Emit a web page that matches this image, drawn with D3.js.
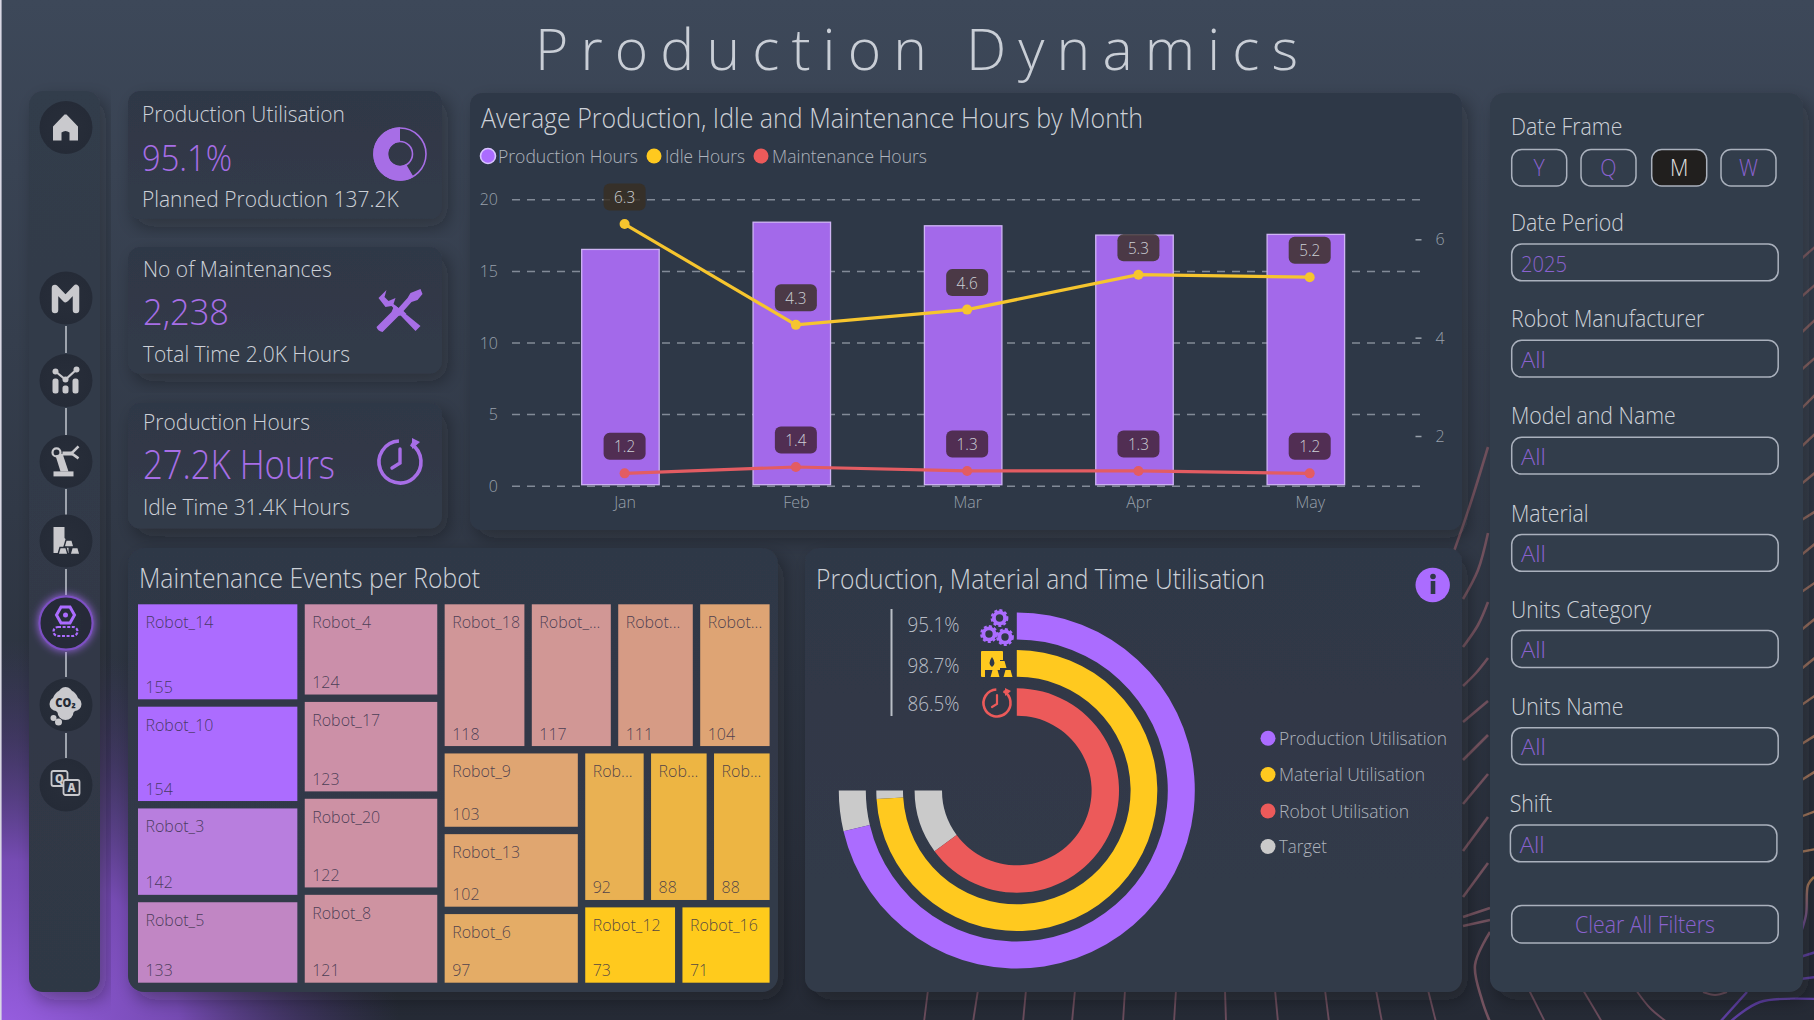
<!DOCTYPE html>
<html><head><meta charset="utf-8">
<script src="https://cdn.jsdelivr.net/npm/d3@7/dist/d3.min.js"></script>
<style>html,body{margin:0;padding:0;background:#262b36;overflow:hidden}svg{display:block}text{font-family:"Open Sans",sans-serif;font-weight:300}</style>
</head><body><svg id="c" width="1814" height="1020"></svg>
<script>
// ---- chart data
const months=["Jan","Feb","Mar","Apr","May"];
const productionHours=[16.5,18.4,18.15,17.5,17.55];
const idleHours=[6.31,4.26,4.57,5.28,5.23];
const maintenanceHours=[1.24,1.37,1.29,1.29,1.24];
const leftTicks=[0,5,10,15,20];
const rightTicks=[2,4,6];
const robotLabels=["Robot_14","Robot_10","Robot_3","Robot_5","Robot_4","Robot_17","Robot_20","Robot_8","Robot_18","Robot_...","Robot...","Robot...","Robot_9","Robot_13","Robot_6","Rob...","Rob...","Rob...","Robot_12","Robot_16"];
const robotEvents=[155,154,142,133,124,123,122,121,118,117,111,104,103,102,97,92,88,88,73,71];
const treeShape=[[0,1,2,3],[4,5,6,7],[[8,9,10,11],[[12,13,14],[[15,16,17],[18,19]]]]];
const utilNames=["Production Utilisation","Material Utilisation","Robot Utilisation"];
const utilValues=[95.1,98.7,86.5];
const filterNames=["Date Period","Robot Manufacturer","Model and Name","Material","Units Category","Units Name","Shift"];
const filterValues=["2025","All","All","All","All","All","All"];
const frames=["Y","Q","M","W"];
const kpiTitle=["Production Utilisation","No of Maintenances","Production Hours"];
const kpiValue=["95.1%","2,238","27.2K Hours"];
const kpiSub=["Planned Production 137.2K","Total Time 2.0K Hours","Idle Time 31.4K Hours"];
// ---- palette
const PURPLE="#ab6cff",YELLOW="#ffc91f",RED="#ec5a5a",GREY="#cacaca",TXT="#cdd1d8",VAL="#a76ee6",FIL="#8a62cf";
const svg=d3.select("#c"),defs=svg.append("defs");
const SQUEEZE=0.925;

function grad(id,c1,c2){const g=defs.append("linearGradient").attr("id",id).attr("x1",0).attr("y1",0).attr("x2",0).attr("y2",1);
 g.append("stop").attr("offset",0).attr("stop-color",c1);g.append("stop").attr("offset",1).attr("stop-color",c2);}
grad("bg","#3d4859","#252a35");grad("pA","#2f3746","#323b49");grad("pB","#333c4b","#333d4c");grad("pS","#333c4b","#2f3744");
const og=defs.append("linearGradient").attr("id","orangePurple").attr("gradientUnits","userSpaceOnUse").attr("x1",0).attr("x2",0).attr("y1",877).attr("y2",935);
og.append("stop").attr("offset",0).attr("stop-color","#ab7c4e");og.append("stop").attr("offset",1).attr("stop-color","#5c3ea0");
const rg=defs.append("radialGradient").attr("id","glow").attr("gradientUnits","userSpaceOnUse").attr("cx",0).attr("cy",1040).attr("r",400);
[[0,"#9a5fe4",1],[.45,"#8350c8",.85],[.75,"#5f3f96",.4],[1,"#4a3a7a",0]].forEach(s=>rg.append("stop").attr("offset",s[0]).attr("stop-color",s[1]).attr("stop-opacity",s[2]));
const rn=defs.append("radialGradient").attr("id","nav");
rn.append("stop").attr("offset",0).attr("stop-color","#282e3a");rn.append("stop").attr("offset",1).attr("stop-color","#252b37");
const f=defs.append("filter").attr("id","sh").attr("x","-15%").attr("y","-15%").attr("width","130%").attr("height","130%");
f.append("feDropShadow").attr("dx",6).attr("dy",8).attr("stdDeviation",9).attr("flood-color","#161a24").attr("flood-opacity",.36);
const f2=defs.append("filter").attr("id","gl").attr("x","-50%").attr("y","-50%").attr("width","200%").attr("height","200%");
f2.append("feDropShadow").attr("dx",0).attr("dy",0).attr("stdDeviation",4).attr("flood-color",PURPLE).attr("flood-opacity",.9);

// ---- background
svg.append("rect").attr("width",1814).attr("height",1020).attr("fill","url(#bg)");
svg.append("rect").attr("width",620).attr("y",560).attr("height",460).attr("fill","url(#glow)");
svg.append("rect").attr("width",1.6).attr("height",1020).attr("fill","#d9d8e4");
// decorative contours, behind the panels
const contourGap=[
 [[1488,447],[1470,505],[1453,554]],[[1488,533],[1478,570],[1463,599]],[[1488,602],[1478,625],[1463,647]],[[1488,658],[1476,673],[1463,686]],
 [[1488,701],[1463,722]],[[1488,735],[1463,760]],[[1488,774],[1463,804]],[[1488,817],[1463,851]],[[1488,863],[1463,897]],[[1490,908],[1463,917]],[[1490,920],[1463,926]],
 [[1490,932],[1475,965],[1482,1000],[1490,1022]]];
const contourFloor=[[[928,990],[924,1022]],[[978,990],[973,1022]],[[1026,990],[1023,1022]],[[1075,990],[1072,1022]],[[1125,990],[1123,1022]],[[1176,990],[1174,1022]],[[1225,990],[1226,1022]],[[1275,990],[1278,1022]],[[1325,990],[1329,1022]],[[1376,990],[1382,1022]],[[1428,990],[1436,1022]],
 [[1529,990],[1545,1022]],[[1583,990],[1602,1022]],[[1636,990],[1650,1008],[1667,1022]],[[1703,992],[1715,995],[1727,992]]];
const lineGen=d3.line().curve(d3.curveCatmullRom);
svg.append("g").attr("fill","none").attr("stroke","#73525f").attr("stroke-width",2.6).selectAll("path").data(contourGap).join("path").attr("d",lineGen);
svg.append("g").attr("fill","none").attr("stroke","#6a4c5c").attr("stroke-width",1.9).selectAll("path").data(contourFloor).join("path").attr("d",lineGen);
const rightStart=[260,298,334,371,410,448,485,521,556,593,631,670,706,745,781,817,852],rightEnd=[246,284,319,357,394,433,472,511,543,582,618,657,695,735,771,811,849];
svg.append("g").attr("fill","none").attr("stroke-width",2.4).selectAll("path").data(rightStart).join("path")
 .attr("stroke",(d,i)=>d3.interpolateRgb("#7d5a62","#a97a5c")(i/16)).attr("d",(d,i)=>lineGen([[1800,d],[1816,rightEnd[i]]]));
const contourPurple=[[[1814,877],[1808,885],[1806,915],[1800,935]],[[1800,957],[1816,952]],[[1800,979],[1816,977]],[[1747,992],[1720,1022]],[[1730,1022],[1760,1002],[1816,999]]];
svg.append("g").attr("fill","none").attr("stroke-width",2.4).selectAll("path").data(contourPurple).join("path").attr("stroke",(d,i)=>i?"#5c3ea0":"url(#orangePurple)").attr("d",lineGen);

// ---- helpers
function panel(x0,y0,x1,y1,fill,r=12){return svg.append("rect").attr("x",x0).attr("y",y0).attr("width",x1-x0).attr("height",y1-y0).attr("rx",r).attr("fill",fill).attr("filter","url(#sh)");}
function T(g,x,y,s,size,fill,o={}){const t=g.append("text").attr("x",x).attr("y",y).text(s).attr("font-size",size).attr("fill",fill);
 if(o.anchor)t.attr("text-anchor",o.anchor);if(o.w){t.attr("textLength",o.w).attr("lengthAdjust",o.adj||"spacingAndGlyphs");}
 if(o.weight)t.style("font-weight",o.weight);return t;}

// ---- panels
panel(29,91,100,992,"url(#pS)",14);
[[91,218.7],[247,373.6],[403,528.6]].forEach(d=>panel(128,d[0],442,d[1],"url(#pA)"));
panel(470,93,1462,530,"#2f3847");
panel(128,548,778,992,"url(#pA)",16);
panel(805,548,1462,992,"url(#pA)",14);
panel(1490,93,1803,992,"url(#pB)",14);

T(svg,535,70,"Production Dynamics",57,"#c9ced6",{w:763,adj:"spacing"});

// ---- navigation rail
const navY=[127.4,298,380.5,461.4,541,623,705,785];
const nav=svg.append("g");
[[326,353],[408,435],[489,515],[569,595],[652,677],[733,758]].forEach(d=>nav.append("line").attr("x1",66).attr("x2",66).attr("y1",d[0]).attr("y2",d[1]).attr("stroke","#aab0b9").attr("stroke-width",1.8));
navY.forEach((y,i)=>{const c=nav.append("circle").attr("cx",66).attr("cy",y).attr("r",26.5).attr("fill","url(#nav)");
 if(i===5)c.attr("stroke","#7d50c4").attr("stroke-width",2).attr("filter","url(#gl)");});
const IC="#c9c9cd";
function at(y){return nav.append("g").attr("transform",`translate(65.5,${y})`);}
at(navY[0]).append("path").attr("fill",IC).attr("d","M-12.5,13 V-1 L-1,-13 H1 L12.5,-1 V13 H4 V5 Q0,2 -4,5 V13 Z");
at(navY[1]).append("path").attr("fill","none").attr("stroke",IC).attr("stroke-width",6.5).attr("stroke-linejoin","round").attr("stroke-linecap","round").attr("d","M-10.5,12 V-10 L0,1 L10.5,-10 V12");
(()=>{const g=at(navY[2]);[[-13,-2,6,15],[-3,5,6,8],[7,-2,6,15]].forEach(r=>g.append("rect").attr("x",r[0]).attr("y",r[1]).attr("width",r[2]).attr("height",r[3]).attr("rx",2.5).attr("fill",IC));
 g.append("path").attr("fill","none").attr("stroke",IC).attr("stroke-width",2.2).attr("d","M-10,-9 L0,-1 L11,-11");[[-10,-9],[0,-1],[11,-11]].forEach(p=>g.append("circle").attr("cx",p[0]).attr("cy",p[1]).attr("r",3).attr("fill",IC));})();
(()=>{const g=at(navY[3]);g.append("rect").attr("x",-12).attr("y",10).attr("width",20).attr("height",5).attr("fill",IC);
 g.append("path").attr("fill",IC).attr("d","M-10,-6 L-3,-8 L3,10 H-5 Z M-3,-10 H7 V-6 H-3 Z");
 g.append("circle").attr("cx",-9).attr("cy",-9).attr("r",4).attr("fill","none").attr("stroke",IC).attr("stroke-width",2.2);
 g.append("path").attr("fill","none").attr("stroke",IC).attr("stroke-width",2.6).attr("d","M13,-15 L6,-8 L13,-3");})();
(()=>{const g=at(navY[4]);g.append("path").attr("fill",IC).attr("d","M-12,-14 H-1 V-3 L3,1 V12 H-12 Z");
 [[3.5,-1],[-2.5,6.5],[9.5,6.5]].forEach(p=>g.append("path").attr("fill",IC).attr("stroke","#262c38").attr("stroke-width",1.4).attr("d",`M${p[0]-5},${p[1]+7} L${p[0]-3},${p[1]} H${p[0]+3} L${p[0]+5},${p[1]+7} Z`));})();
(()=>{const g=at(navY[5]);g.append("path").attr("fill","none").attr("stroke",PURPLE).attr("stroke-width",3).attr("d","M-9,-8 L-4.5,-16 H4.5 L9,-8 L4.5,0 H-4.5 Z");
 g.append("circle").attr("cy",-8).attr("r",2.5).attr("fill",PURPLE);
 g.append("rect").attr("x",-12).attr("y",4).attr("width",24).attr("height",9).attr("rx",4.5).attr("fill","none").attr("stroke",PURPLE).attr("stroke-width",2.2).attr("stroke-dasharray","3 1.6");})();
(()=>{const g=at(navY[6]);[[0,-3,13],[-9,-1,7],[9,-1,7],[0,7,8],[0,-11,7]].forEach(c=>g.append("circle").attr("cx",c[0]).attr("cy",c[1]).attr("r",c[2]).attr("fill",IC));
 [[-12,13,3],[-7,17,3.5]].forEach(c=>g.append("circle").attr("cx",c[0]).attr("cy",c[1]).attr("r",c[2]).attr("fill",IC));
 T(g,0,2,"CO₂",12,"#232934",{anchor:"middle",weight:800});})();
(()=>{const g=at(navY[7]);[[-14,-14,"Q"],[-2,-5,"A"]].forEach(b=>{g.append("rect").attr("x",b[0]).attr("y",b[1]).attr("width",16).attr("height",15).attr("rx",2).attr("fill","#262c38").attr("stroke",IC).attr("stroke-width",1.8);
 T(g,b[0]+8,b[1]+12,b[2],12,IC,{anchor:"middle",weight:800});});})();

// ---- KPI cards
const kpiX=[142,143,143],kpiTY=[122,277,430.4],kpiVY=[171,325,478.7],kpiSY=[207,362,514.8],kpiVS=[37.3,37.3,40],kpiVW=[90,86,192];
kpiTitle.forEach((s,i)=>T(svg,kpiX[i],kpiTY[i],s,22.67,TXT));
kpiValue.forEach((s,i)=>T(svg,kpiX[i],kpiVY[i],s,kpiVS[i],VAL,{w:kpiVW[i]}));
kpiSub.forEach((s,i)=>T(svg,kpiX[i],kpiSY[i],s,22.67,TXT));
(()=>{const g=svg.append("g").attr("transform","translate(400,154)");const a=d3.arc();
 g.append("circle").attr("r",26).attr("fill","none").attr("stroke",VAL).attr("stroke-width",1.6);
 g.append("circle").attr("r",12.5).attr("fill","none").attr("stroke",VAL).attr("stroke-width",1.6);
 g.append("path").attr("fill",VAL).attr("d",a({innerRadius:12,outerRadius:26.8,startAngle:Math.PI*.83,endAngle:Math.PI*2}));})();
(()=>{const g=svg.append("g").attr("transform","translate(399.5,310)").attr("fill",VAL);
 g.append("path").attr("d","M-21,-12 L-13,-20 L-15,-13 L-11,-9 L-4,-12 L-6,-6 L21,16 L16,21 L-8,-4 L-14,-3 Z");
 g.append("path").attr("d","M21,-21 L23,-16 L18,-10 L12,-8 L4,1 L7,4 L-1,6 L-6,11 L-17,22 Q-22,21 -23,17 L-8,2 L-5,-5 L-1,-2 L8,-12 L11,-17 Z");})();
(()=>{const g=svg.append("g").attr("transform","translate(400,462)");
 g.append("path").attr("fill","none").attr("stroke",VAL).attr("stroke-width",3.6).attr("d",d3.arc()({innerRadius:21,outerRadius:21,startAngle:.55,endAngle:Math.PI*2-.05}));
 g.append("path").attr("fill",VAL).attr("d","M12,-24 L20,-20 L12,-13 Z");
 g.append("path").attr("fill","none").attr("stroke",VAL).attr("stroke-width",3.4).attr("stroke-linecap","round").attr("d","M0,-13 V1 L-8,6");})();

// ---- combo chart
T(svg,481,128,"Average Production, Idle and Maintenance Hours by Month",26.67,TXT,{w:662});
const legendNames=["Production Hours","Idle Hours","Maintenance Hours"],legendColors=[PURPLE,YELLOW,RED];
const legDotX=[488,654,761],legTxtX=[498,665,772],legTxtW=[140,80,155];
legendNames.forEach((s,i)=>{const c=svg.append("circle").attr("cx",legDotX[i]).attr("cy",156).attr("r",7.5).attr("fill",legendColors[i]);
 if(i===0)c.attr("stroke","#d9c5ff").attr("stroke-width",1.6);
 T(svg,legTxtX[i],162.5,s,18.67,"#aeb4bd",{w:legTxtW[i]});});
const yL=d3.scaleLinear().domain([0,20]).range([485.7,199.3]);
const yR=d3.scaleLinear().domain([2,6]).range([436,239.3]);
const xBand=d3.scaleBand().domain(months).range([581.7,1344.6]).paddingInner(.5478).paddingOuter(0);
const xPt=d3.scalePoint().domain(months).range([624.6,1309.7]);
function styleAxis(g){g.select(".domain").remove();g.selectAll("text").attr("font-size",17.3).attr("fill","#98a0ab").style("font-family",'"Open Sans",sans-serif').style("font-weight",300);}
const gL=svg.append("g").attr("transform","translate(512,0)").call(d3.axisLeft(yL).tickValues(leftTicks).tickSize(-909.5).tickPadding(14)).call(styleAxis);
gL.selectAll("line").attr("stroke","#828a97").attr("stroke-width",1.5).attr("stroke-dasharray","8 7");
const gR=svg.append("g").attr("transform","translate(1421.5,0)").call(d3.axisRight(yR).tickValues(rightTicks).tickFormat(d3.format("d")).tickSize(-6).tickPadding(14)).call(styleAxis);
gR.selectAll("line").attr("stroke","#98a0ab").attr("stroke-width",1.5);
svg.append("g").attr("transform","translate(0,485.7)").call(d3.axisBottom(xPt).tickSize(0).tickPadding(10)).call(styleAxis);
svg.append("g").selectAll("rect").data(months).join("rect").attr("x",d=>xBand(d)).attr("width",xBand.bandwidth())
 .attr("y",(d,i)=>yL(productionHours[i])).attr("height",(d,i)=>yL(0)-1-yL(productionHours[i])).attr("fill","#a369ea").attr("stroke","#cfb4f5").attr("stroke-width",1.3);
function lineSeries(vals,col,labelFill){
 const ln=d3.line().x((d,i)=>xPt(months[i])).y(d=>yR(d));
 svg.append("path").attr("d",ln(vals)).attr("fill","none").attr("stroke",col).attr("stroke-width",3.2);
 svg.append("g").selectAll("circle").data(vals).join("circle").attr("cx",(d,i)=>xPt(months[i])).attr("cy",d=>yR(d)).attr("r",5).attr("fill",col);
 const lb=svg.append("g").selectAll("g").data(vals).join("g").attr("transform",(d,i)=>`translate(${xPt(months[i])},${yR(d)-27})`);
 lb.append("rect").attr("x",-21).attr("y",-13.5).attr("width",42).attr("height",27).attr("rx",6).attr("fill",labelFill);
 lb.append("text").attr("text-anchor","middle").attr("y",6).attr("font-size",16.5).attr("fill","#cdd1d6").text(d=>d.toFixed(1));
}
lineSeries(idleHours,"#f6c52e","rgba(56,46,34,.82)");
lineSeries(maintenanceHours,"#e35c62","rgba(68,36,58,.86)");

// ---- treemap
T(svg,139,588,"Maintenance Events per Robot",26.67,TXT,{w:341});
function toNode(s){return Array.isArray(s)?{children:s.map(toNode)}:{label:robotLabels[s],value:robotEvents[s]};}
const root=d3.hierarchy(toNode(treeShape)).sum(d=>d.value||0);
d3.treemap().size([631.6,378.4]).paddingInner(7.4).round(false)
 .tile((n,a,b,c,d)=>(n.depth%2?d3.treemapSlice:d3.treemapDice)(n,a,b,c,d))(root);
const heat=d3.scaleLinear().domain([71,73,88,97,104,111,118,124,133,142,154]).range(["#ffcb1c","#ffc91e","#edb543","#e4ac66","#dea474","#d69b85","#d09698","#cb8faa","#c186c4","#b87ede","#ac6cff"]).clamp(true);
const tm=svg.append("g").attr("transform","translate(138,604.3)");
const cells=tm.selectAll("g").data(root.leaves()).join("g").attr("transform",d=>`translate(${d.x0},${d.y0})`);
cells.append("rect").attr("width",d=>d.x1-d.x0).attr("height",d=>d.y1-d.y0).attr("fill",d=>heat(d.data.value));
cells.append("text").attr("x",7.5).attr("y",24).attr("font-size",17.3).attr("fill","#352f48").attr("fill-opacity",.85).text(d=>d.data.label);
cells.append("text").attr("x",7.5).attr("y",d=>d.y1-d.y0-6.5).attr("font-size",17.3).attr("fill","#352f48").attr("fill-opacity",.85).text(d=>d.data.value);

// ---- radial gauge
T(svg,816,589,"Production, Material and Time Utilisation",26.67,TXT,{w:449});
const ringColors=[PURPLE,YELLOW,RED],ringOuter=[178,140.5,102.2],ringInner=[151,113.8,74.8];
const angle=d3.scaleLinear().domain([0,100]).range([0,Math.PI*1.5]);
const gauge=svg.append("g").attr("transform","translate(1016.8,790.5)");
const arc=d3.arc();
utilValues.forEach((v,i)=>{
 gauge.append("path").attr("fill",GREY).attr("d",arc({innerRadius:ringInner[i],outerRadius:ringOuter[i],startAngle:angle(v),endAngle:angle(100)}));
 gauge.append("path").attr("fill",ringColors[i]).attr("d",arc({innerRadius:ringInner[i],outerRadius:ringOuter[i],startAngle:0,endAngle:angle(v)}));});
svg.append("line").attr("x1",891.5).attr("x2",891.5).attr("y1",609).attr("y2",716).attr("stroke","#b9bec6").attr("stroke-width",2);
const pctY=[632,673,711];
utilValues.forEach((v,i)=>T(svg,907.5,pctY[i],v.toFixed(1)+"%",20,"#b9bec6",{w:52}));
(()=>{const g=svg.append("g").attr("fill","none").attr("stroke",PURPLE);
 [[999.5,618],[989,634],[1005,637]].forEach(p=>{g.append("circle").attr("cx",p[0]).attr("cy",p[1]).attr("r",5.6).attr("stroke-width",3.8);
 g.append("circle").attr("cx",p[0]).attr("cy",p[1]).attr("r",7.8).attr("stroke-width",2.2).attr("stroke-dasharray","3 2.2");});})();
(()=>{const g=svg.append("g").attr("fill",YELLOW);
 g.append("rect").attr("x",981).attr("y",651).attr("width",22).attr("height",26).attr("rx",1);
 g.append("path").attr("fill","#2f3847").attr("d","M992,657 q5,7 0,10 q-5,-3 0,-10Z M1000,660 H1008 V680 H985 V670 H1000 Z");
 [[1002,661],[995,670],[1008,670]].forEach(p=>g.append("path").attr("d",`M${p[0]-4.5},${p[1]+7} L${p[0]-2.5},${p[1]} H${p[0]+2.5} L${p[0]+4.5},${p[1]+7} Z`));})();
(()=>{const g=svg.append("g").attr("transform","translate(997,703)").attr("fill","none").attr("stroke",RED);
 g.append("path").attr("stroke-width",2.6).attr("d",d3.arc()({innerRadius:13.5,outerRadius:13.5,startAngle:.5,endAngle:Math.PI*2-.05}));
 g.append("path").attr("fill",RED).attr("stroke","none").attr("d","M8,-15 L14,-12 L8,-7 Z");
 g.append("path").attr("stroke-width",2.2).attr("stroke-linecap","round").attr("d","M0,-8 V1 L-5,4");})();
const gLegendNames=[...utilNames,"Target"],gLegendColors=[PURPLE,YELLOW,RED,GREY],gLegendY=[738.3,774.5,811,846.5];
const gLegendW=[168,146,130,48];
gLegendNames.forEach((s,i)=>{svg.append("circle").attr("cx",1268).attr("cy",gLegendY[i]).attr("r",7.5).attr("fill",gLegendColors[i]);
 T(svg,1279,gLegendY[i]+6.5,s,18.67,"#aeb4bd",{w:gLegendW[i]});});
svg.append("circle").attr("cx",1432.7).attr("cy",585).attr("r",17.2).attr("fill",PURPLE);
svg.append("rect").attr("x",1430.7).attr("y",581).attr("width",4.6).attr("height",13).attr("fill","#2f3847");
svg.append("circle").attr("cx",1433).attr("cy",576.5).attr("r",2.8).attr("fill","#2f3847");

// ---- filter column
const BOX="#aab1bd";
T(svg,1511,135,"Date Frame",23,TXT);
const frameX=[1511.7,1581,1651.7,1721];
frames.forEach((s,i)=>{const on=s==="M";
 svg.append("rect").attr("x",frameX[i]).attr("y",149.5).attr("width",55).attr("height",36.5).attr("rx",10).attr("fill",on?"#211f1e":"none").attr("stroke",BOX).attr("stroke-width",1.5);
 T(svg,frameX[i]+27.5,176,s,23,on?"#e4e4e4":FIL,{anchor:"middle"});});
const labelY=[230.7,326.7,424,521.7,618,715,812],boxY=[244,340.3,437.3,534.5,630.6,727.7,825];
filterNames.forEach((s,i)=>{const dx=i===6?-1.3:0;
 T(svg,1511+dx,labelY[i],s,23,TXT);
 svg.append("rect").attr("x",1511.7+dx).attr("y",boxY[i]).attr("width",266.5).attr("height",36.8).attr("rx",10).attr("fill","none").attr("stroke",BOX).attr("stroke-width",1.5);
 T(svg,1521+dx,boxY[i]+27.5,filterValues[i],22.67,FIL,{w:i?25:46});});
svg.append("rect").attr("x",1511.7).attr("y",905.5).attr("width",266.5).attr("height",37.5).attr("rx",10).attr("fill","none").attr("stroke",BOX).attr("stroke-width",1.5);
T(svg,1645,933,"Clear All Filters",23,FIL,{anchor:"middle",w:140});

// global width correction for the substitute typeface
svg.selectAll("text").each(function(){if(this.hasAttribute("textLength"))return;const n=this.getComputedTextLength();if(n>0){this.setAttribute("textLength",n*SQUEEZE);this.setAttribute("lengthAdjust","spacingAndGlyphs");}});
</script></body></html>
